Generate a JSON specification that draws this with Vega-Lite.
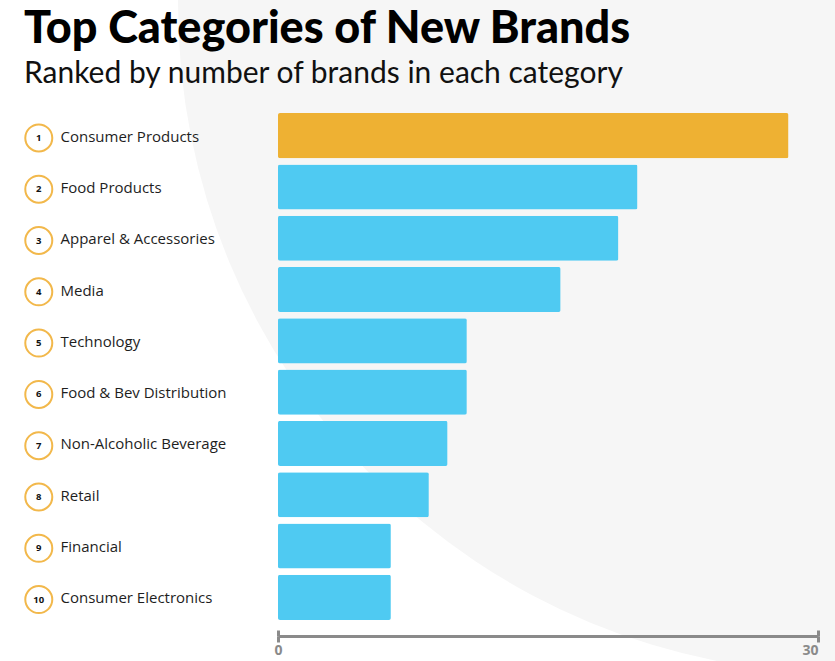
{
  "$schema": "https://vega.github.io/schema/vega-lite/v6.json",
  "width": 540,
  "height": 513,
  "autosize": {"type": "none"},
  "padding": {"left": 278, "top": 110, "right": 17, "bottom": 38},
  "background": "white",
  "config": {"view": {"stroke": null}},
  "title": {
    "text": "Top Categories of New Brands",
    "subtitle": "Ranked by number of brands in each category",
    "anchor": "start",
    "frame": "group",
    "baseline": "top",
    "dx": -254,
    "offset": -751,
    "font": "Lato",
    "fontSize": 45,
    "fontWeight": 900,
    "color": "#000000",
    "subtitleFont": "Lato",
    "subtitleFontSize": 30,
    "subtitleFontWeight": "normal",
    "subtitleColor": "#111111",
    "subtitlePadding": 7
  },
  "data": {
    "values": [
      {"rank": 1, "category": "Consumer Products", "brands": 28.36},
      {"rank": 2, "category": "Food Products", "brands": 19.97},
      {"rank": 3, "category": "Apparel & Accessories", "brands": 18.91},
      {"rank": 4, "category": "Media", "brands": 15.7},
      {"rank": 5, "category": "Technology", "brands": 10.49},
      {"rank": 6, "category": "Food & Bev Distribution", "brands": 10.49},
      {"rank": 7, "category": "Non-Alcoholic Beverage", "brands": 9.42},
      {"rank": 8, "category": "Retail", "brands": 8.38},
      {"rank": 9, "category": "Financial", "brands": 6.27},
      {"rank": 10, "category": "Consumer Electronics", "brands": 6.27}
    ]
  },
  "resolve": {"scale": {"y": "independent"}, "axis": {"x": "independent"}},
  "layer": [
    {
      "transform": [{"filter": "datum.rank == 1"}],
      "mark": {"type": "point", "shape": "circle", "filled": true, "color": "#f6f6f6", "opacity": 1, "size": 1784896, "clip": false},
      "encoding": {
        "x": {"datum": 31.56, "type": "quantitative", "scale": {"domain": [0, 30], "nice": false, "zero": false},
          "axis": {"orient": "bottom", "offset": 13, "domain": true, "domainColor": "#8a8a8a", "domainWidth": 3, "values": [0, 30], "tickSize": 6, "tickWidth": 3, "tickColor": "#8a8a8a", "labelFont": "Open Sans", "labelFontWeight": "bold", "labelFontSize": 14, "labelColor": "#8a8a8a", "labelPadding": 1, "labelFlush": false, "labelAlign": {"condition": {"test": "datum.value >= 30", "value": "right"}, "value": "center"}, "grid": false, "title": null, "zindex": 1}},
        "y": {"datum": 1.2037, "type": "quantitative", "scale": {"domain": [0, 1], "nice": false, "zero": false}, "axis": null}
      }
    },
    {
      "encoding": {
        "y": {
          "field": "category", "type": "nominal",
          "sort": ["Consumer Products", "Food Products", "Apparel & Accessories", "Media", "Technology", "Food & Bev Distribution", "Non-Alcoholic Beverage", "Retail", "Financial", "Consumer Electronics"],
          "scale": {"paddingInner": 0.12, "paddingOuter": 0.06},
          "axis": {"orient": "left", "domain": false, "ticks": false, "tickSize": 0, "labelAlign": "left", "labelBaseline": "middle", "labelPadding": 218, "labelOffset": 1, "labelFont": "Open Sans", "labelFontSize": 15, "labelColor": "#1e1e1e", "labelLimit": 0, "title": null, "grid": false, "zindex": 1}
        }
      },
      "layer": [
        {
          "mark": {"type": "bar", "cornerRadius": 2},
          "encoding": {
            "x": {"field": "brands", "type": "quantitative", "scale": {"domain": [0, 30], "nice": false, "zero": false},
              "axis": {"orient": "bottom", "offset": 7, "domain": false, "labels": false, "ticks": true, "values": [0, 30], "tickSize": 6, "tickWidth": 3, "tickColor": "#8a8a8a", "grid": false, "title": null, "zindex": 1}},
            "color": {"condition": {"test": "datum.rank == 1", "value": "#eeb133"}, "value": "#4fcaf2"}
          }
        },
        {
          "mark": {"type": "point", "shape": "circle", "filled": true, "fill": "#ffffff", "stroke": "#f2b84b", "strokeWidth": 2, "size": 729, "opacity": 1, "clip": false},
          "encoding": {
            "x": {"datum": -13.29, "type": "quantitative", "scale": {"domain": [0, 30], "nice": false, "zero": false}},
            "y": {
              "field": "category", "type": "nominal", "bandPosition": 0.55,
              "sort": ["Consumer Products", "Food Products", "Apparel & Accessories", "Media", "Technology", "Food & Bev Distribution", "Non-Alcoholic Beverage", "Retail", "Financial", "Consumer Electronics"]
            }
          }
        },
        {
          "mark": {"type": "text", "font": "Open Sans", "fontWeight": "bold", "fontSize": 9.5, "color": "#111111", "align": "center", "baseline": "middle", "clip": false},
          "encoding": {
            "x": {"datum": -13.29, "type": "quantitative", "scale": {"domain": [0, 30], "nice": false, "zero": false}},
            "y": {
              "field": "category", "type": "nominal", "bandPosition": 0.55,
              "sort": ["Consumer Products", "Food Products", "Apparel & Accessories", "Media", "Technology", "Food & Bev Distribution", "Non-Alcoholic Beverage", "Retail", "Financial", "Consumer Electronics"]
            },
            "text": {"field": "rank", "type": "quantitative"}
          }
        }
      ]
    }
  ]
}
